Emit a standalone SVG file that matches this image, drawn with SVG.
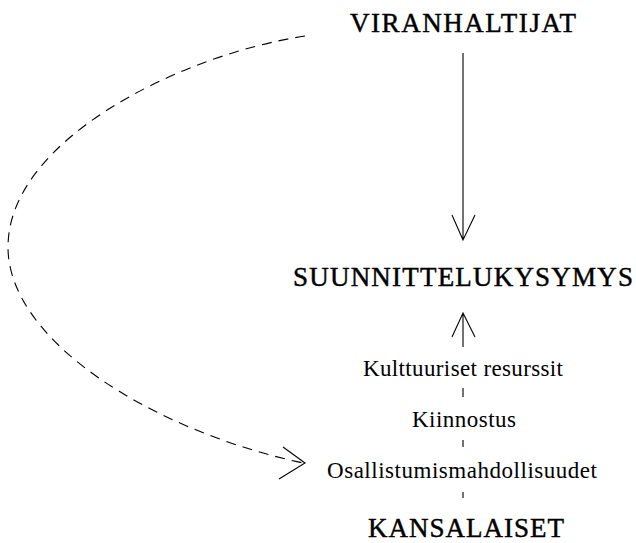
<svg xmlns="http://www.w3.org/2000/svg" width="636" height="543" viewBox="0 0 636 543">
<style>
.title{font-family:"Liberation Serif",serif;font-size:27px;fill:#000;stroke:#000;stroke-width:0.45;text-anchor:middle}
.lbl{font-family:"Liberation Serif",serif;font-size:23px;fill:#000;text-anchor:middle}
.ln{fill:none;stroke:#000;stroke-width:1.1}
.dash{fill:none;stroke:#000;stroke-width:1.1;stroke-dasharray:10,7}
</style>
<rect width="636" height="543" fill="#fff"/>
<g id="connectors">
<path class="ln" d="M463,53 V239 M452,215 L463,240 L475,215"/>
<path class="ln" d="M463,314 V347 M463,388 V397 M463,440 V447 M463,492 V498 M452,337 L463,313 L475,337"/>
<path class="dash" d="M305,36 C180,55 8,140 8,247 C8,340 150,430 303,463"/>
<path class="ln" d="M283,447 L305,463 L279,479"/>
</g>
<g id="viranhaltijat"><text class="title" x="463" y="32" textLength="226" lengthAdjust="spacing">VIRANHALTIJAT</text></g>
<g id="suunnittelukysymys"><text class="title" x="463" y="286" textLength="340" lengthAdjust="spacing">SUUNNITTELUKYSYMYS</text></g>
<g id="kulttuuriset"><text class="lbl" x="463" y="376" textLength="200" lengthAdjust="spacing">Kulttuuriset resurssit</text></g>
<g id="kiinnostus"><text class="lbl" x="464" y="427" textLength="104" lengthAdjust="spacing">Kiinnostus</text></g>
<g id="osallistumis"><text class="lbl" x="462" y="478" textLength="270" lengthAdjust="spacing">Osallistumismahdollisuudet</text></g>
<g id="kansalaiset"><text class="title" x="466" y="537" font-size="26" textLength="196" lengthAdjust="spacing">KANSALAISET</text></g>
</svg>
